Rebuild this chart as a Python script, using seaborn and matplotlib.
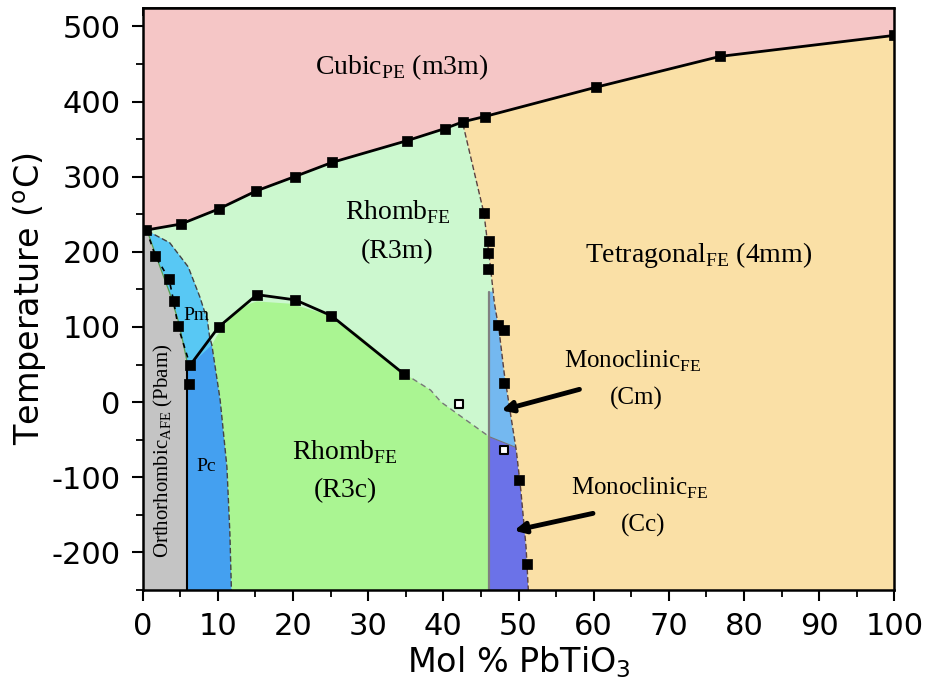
"""PZN-PT style phase diagram: temperature vs mol % PbTiO3, phase regions filled."""
import matplotlib

matplotlib.use("Agg")

import matplotlib.pyplot as plt
import numpy as np
import seaborn as sns
from matplotlib.ticker import MultipleLocator

sns.set_theme(style="ticks")
plt.rcParams["font.family"] = ["DejaVu Sans"]
plt.rcParams["mathtext.fontset"] = "custom"
plt.rcParams["mathtext.rm"] = "Liberation Serif"
plt.rcParams["mathtext.sf"] = "DejaVu Sans"
plt.rcParams["axes.unicode_minus"] = False
for key in ["text.color", "axes.labelcolor", "xtick.color", "ytick.color", "axes.edgecolor"]:
    plt.rcParams[key] = "black"

# ---- measured transition points (filled squares) ----
tc_x = [0.5, 5.1, 10.1, 15.1, 20.2, 25.2, 35.2, 40.2, 42.6, 45.5, 60.3, 76.8, 100.0]
tc_t = [229, 237, 257, 281, 300, 319, 348, 364, 373, 380, 419, 460, 488]

rr_x = [6.3, 10.1, 15.2, 20.3, 25.1, 34.8]          # R3m -> R3c
rr_t = [49, 100, 143, 136, 115, 37]

ortho_x = [1.7, 3.5, 4.1, 4.7, 6.2]                 # orthorhombic boundary
ortho_t = [194, 164, 135, 101, 24]

mpb_x = [45.4, 46.1, 46.0, 46.0, 47.2, 48.1, 48.1, 50.1, 51.1]   # rhomb/tetragonal
mpb_t = [251, 215, 198, 177, 103, 96, 25, -104, -215]

open_x = [42.1, 48.0]                               # open squares
open_t = [-2, -64]

# ---- phase region edges ----
mpb_line_x = [42.6, 45.4, 46.2, 46.8, 47.4, 48.1, 49.0, 49.7, 50.3, 51.0, 51.3]
mpb_line_t = [370, 251, 185, 131, 96, 38, -20, -64, -117, -193, -250]

pm_edge_x = [0.6, 3.6, 6.05, 7.6, 8.6, 8.9, 9.2, 10.3, 11.2, 11.6, 11.8]
pm_edge_t = [228, 212, 180, 140, 109, 87, 76, 3, -86, -175, -250]

ortho_edge_x = [0.0, 0.7, 2.3, 3.6, 4.7, 5.4, 5.85]
ortho_edge_t = [230, 225, 180, 145, 109, 78, 56]

r3c_top_x = [9.2, 9.8, 12.0, 14.3, 15.2, 19.6, 24.1, 28.5, 34.8, 38.3, 39.7, 46.1]
r3c_top_t = [76, 87, 118, 131, 134, 131, 118, 91, 38, 16, 0, -46]

mono_x = 46.1          # vertical R3m|R3c / Cm|Cc line
mono_top = 147
cm_cc_x = [46.1, 49.6]
cm_cc_t = [-46, -60]

T_MIN, T_MAX = -250, 524

colors = {
    "cubic": "#f5c6c6",
    "tetra": "#fae0a6",
    "r3m": "#ccf8cf",
    "r3c": "#aaf592",
    "ortho": "#c4c4c4",
    "pm": "#58c8f4",
    "pc": "#44a0f0",
    "cm": "#74b8f0",
    "cc": "#6b72e8",
}

fig = plt.figure(figsize=(9.34, 6.93), dpi=100)
ax = fig.add_axes([0.1528, 0.1486, 0.8048, 0.8394])
ax.set_facecolor(colors["r3m"])


def poly(xs, ts, key):
    ax.fill(xs, ts, color=colors[key], lw=0, zorder=1)


# cubic (above Curie line)
ax.fill_between([0] + tc_x, [230] + tc_t, T_MAX, color=colors["cubic"], lw=0, zorder=1)

# R3c
poly(pm_edge_x[6:] + [mono_x] + r3c_top_x[::-1],
     pm_edge_t[6:] + [T_MIN] + r3c_top_t[::-1], "r3c")

# Pc (whole monoclinic-left wedge), then Pm on top
poly(ortho_edge_x[1:] + [ortho_edge_x[-1]] + pm_edge_x[::-1],
     ortho_edge_t[1:] + [T_MIN] + pm_edge_t[::-1], "pc")
poly(ortho_edge_x[1:] + [rr_x[0]] + pm_edge_x[6::-1],
     ortho_edge_t[1:] + [rr_t[0]] + pm_edge_t[6::-1], "pm")

# orthorhombic
poly([0] + ortho_edge_x + [ortho_edge_x[-1]],
     [T_MIN] + ortho_edge_t + [T_MIN], "ortho")

# Cm / Cc between vertical line and MPB
mx = np.array(mpb_line_x)
mt = np.array(mpb_line_t)
x_top = np.interp(mono_top, mt[::-1], mx[::-1])
sel = (mt > cm_cc_t[1]) & (mt < mono_top)
poly([mono_x, mono_x, cm_cc_x[1]] + list(mx[sel][::-1]) + [x_top],
     [mono_top, cm_cc_t[0], cm_cc_t[1]] + list(mt[sel][::-1]) + [mono_top], "cm")
sel = mt < cm_cc_t[1]
poly([mono_x, mono_x] + list(mx[sel][::-1]) + [cm_cc_x[1]],
     [cm_cc_t[0], T_MIN] + list(mt[sel][::-1]) + [cm_cc_t[1]], "cc")

# tetragonal
tc_arr_x = np.array(tc_x)
tc_arr_t = np.array(tc_t)
sel = tc_arr_x > mpb_line_x[0]
poly(mpb_line_x + [100] + list(tc_arr_x[sel][::-1]),
     mpb_line_t + [T_MIN] + list(tc_arr_t[sel][::-1]), "tetra")

# ---- boundary lines ----
dash_kw = dict(estimator=None, sort=False, ax=ax, legend=False)
sns.lineplot(x=pm_edge_x, y=pm_edge_t, color="#444444", lw=1,
             linestyle=(0, (4, 2)), zorder=2, **dash_kw)
sns.lineplot(x=ortho_edge_x[1:], y=ortho_edge_t[1:], color="#58a050", lw=0.9,
             zorder=2, **dash_kw)
sns.lineplot(x=[tc_x[0]] + ortho_x[:-1] + [rr_x[0]], y=[tc_t[0]] + ortho_t[:-1] + [rr_t[0]],
             color="black", lw=1.2, linestyle=(0, (3, 3)), zorder=3, **dash_kw)
ax.plot([5.95, 5.95], [rr_t[0], T_MIN], color="black", lw=1.5, zorder=3)
ax.plot([mono_x, mono_x], [mono_top, T_MIN], color="#808080", lw=1.6, zorder=3)
sns.lineplot(x=r3c_top_x[-4:], y=r3c_top_t[-4:], color="#777777", lw=1,
             linestyle=(0, (4, 3)), zorder=2, **dash_kw)
sns.lineplot(x=cm_cc_x, y=cm_cc_t, color="#777777", lw=0.8, zorder=2, **dash_kw)
sns.lineplot(x=mpb_line_x, y=mpb_line_t, color="#5a4040", lw=1,
             linestyle=(0, (4, 2)), zorder=3, **dash_kw)
sns.lineplot(x=tc_x, y=tc_t, color="black", lw=2, zorder=4, **dash_kw)
sns.lineplot(x=rr_x, y=rr_t, color="black", lw=2, zorder=4, **dash_kw)

# ---- markers ----
for xs, ts in [(tc_x, tc_t), (rr_x, rr_t), (ortho_x, ortho_t), (mpb_x, mpb_t)]:
    sns.scatterplot(x=xs, y=ts, marker="s", s=46, color="black", edgecolor="black",
                    linewidth=0.5, zorder=5, ax=ax, legend=False)
sns.scatterplot(x=open_x, y=open_t, marker="s", s=36, color="white", edgecolor="black",
                linewidth=1.5, zorder=5, ax=ax, legend=False)

# ---- region labels ----
serif = dict(family="Liberation Serif", ha="center", va="center", zorder=6)
ax.text(34.4, 446, r"Cubic$_{\mathrm{PE}}$ (m3m)", fontsize=20, **serif)
ax.text(34.0, 253, r"Rhomb$_{\mathrm{FE}}$", fontsize=20, **serif)
ax.text(33.9, 200, "(R3m)", fontsize=20, **serif)
ax.text(74.0, 196, r"Tetragonal$_{\mathrm{FE}}$ (4mm)", fontsize=20, **serif)
ax.text(26.9, -66, r"Rhomb$_{\mathrm{FE}}$", fontsize=20, **serif)
ax.text(26.9, -118, "(R3c)", fontsize=20, **serif)
ax.text(65.2, 54, r"Monoclinic$_{\mathrm{FE}}$", fontsize=18, **serif)
ax.text(65.7, 5, "(Cm)", fontsize=18, **serif)
ax.text(66.1, -115, r"Monoclinic$_{\mathrm{FE}}$", fontsize=18, **serif)
ax.text(66.6, -164, "(Cc)", fontsize=18, **serif)
ax.text(7.1, 115, "Pm", fontsize=14, **serif)
ax.text(8.5, -85, "Pc", fontsize=14, **serif)
ax.text(2.7, -65, r"Orthorhombic$_{\mathrm{AFE}}$ (Pbam)", fontsize=15, rotation=90, **serif)

arrow = dict(arrowstyle="-|>", color="black", lw=3.5, mutation_scale=16, shrinkA=0, shrinkB=0)
ax.annotate("", xy=(47.7, -11), xytext=(58.1, 17), arrowprops=arrow, zorder=6)
ax.annotate("", xy=(49.4, -171), xytext=(59.9, -148), arrowprops=arrow, zorder=6)

# ---- axes ----
ax.set_xlim(0, 100)
ax.set_ylim(T_MIN, T_MAX)
ax.set_xticks(range(0, 101, 10))
ax.set_yticks(range(-200, 501, 100))
ax.xaxis.set_minor_locator(MultipleLocator(5))
ax.yaxis.set_minor_locator(MultipleLocator(50))
ax.tick_params(which="major", direction="out", length=8, width=1.5, labelsize=22, pad=8)
ax.tick_params(which="minor", direction="out", length=5, width=1.3)
for side in ax.spines.values():
    side.set_linewidth(1.8)
    side.set_zorder(7)

sec_x = ax.secondary_xaxis("top")
sec_x.set_xticks(range(0, 101, 10))
sec_x.xaxis.set_minor_locator(MultipleLocator(5))
sec_x.tick_params(which="both", direction="in", labeltop=False, width=1.3)
sec_x.tick_params(which="major", length=6)
sec_x.tick_params(which="minor", length=3)
sec_y = ax.secondary_yaxis("right")
sec_y.set_yticks(range(-200, 501, 100))
sec_y.yaxis.set_minor_locator(MultipleLocator(50))
sec_y.tick_params(which="both", direction="in", labelright=False, width=1.3)
sec_y.tick_params(which="major", length=6)
sec_y.tick_params(which="minor", length=3)

ax.set_xlabel(r"Mol % PbTiO$_{\mathsf{3}}$", fontsize=24, labelpad=2)
ax.set_ylabel(r"Temperature ($^{\mathsf{o}}$C)", fontsize=24, labelpad=2)

fig.savefig("out.png", dpi=100)
plt.close(fig)
